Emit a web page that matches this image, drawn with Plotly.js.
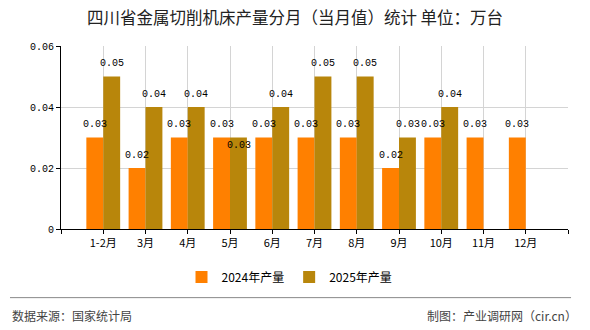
<!DOCTYPE html>
<html>
<head>
<meta charset="utf-8">
<script src="https://cdn.plot.ly/plotly-3.0.1.min.js"></script>
<style>html,body{margin:0;padding:0;background:#fff;}#chart{width:590px;height:330px;}</style>
</head>
<body>
<div id="chart"></div>
<script>
const categories = ['1-2月','3月','4月','5月','6月','7月','8月','9月','10月','11月','12月'];
const values2024 = [0.03,0.02,0.03,0.03,0.03,0.03,0.03,0.02,0.03,0.03,0.03];
const values2025 = [0.05,0.04,0.04,0.03,0.04,0.05,0.05,0.03,0.04,null,null];
const seriesNames = ['2024年产量','2025年产量'];
const yTicks = [0,0.02,0.04,0.06];
const yTickLabels = ['0','0.02','0.04','0.06'];

const xIdx = categories.map((c,i)=>i);
const cjk = '"Noto Sans CJK SC", "Noto Sans", sans-serif';
const mono = '"Liberation Mono", "DejaVu Sans Mono", monospace';
const colors = ['#FF8000','#B8860B'];

function fmt(v){ return v==null ? '' : v.toFixed(2); }

const traces = [values2024, values2025].map((vals,k)=>({
  type:'bar', name:seriesNames[k], x:xIdx, y:vals, marker:{color:colors[k]}, hoverinfo:'skip'
}));

// value labels drawn above all bars, anchored on each bar's data point
const labelAnns = [];
[values2024, values2025].forEach((vals,k)=>{
  vals.forEach((v,i)=>{
    if (v==null) return;
    // when both bars of a month are equal, the second label is pushed down (as in the source)
    const clash = (k===1 && values2024[i]===v);
    labelAnns.push({x:i, y:v, xref:'x', yref:'y', text:fmt(v), showarrow:false,
      xshift:(k===0?-8.5:8.5), yshift:(clash?-8:13), xanchor:'center', yanchor:'middle',
      font:{family:mono,size:10,color:'#000'}});
  });
});

const tickvals = [-1].concat(xIdx).concat([categories.length]);
const ticktext = [''].concat(categories).concat(['']);

const layout = {
  width:590, height:330,
  margin:{l:61,r:22,t:46,b:101},
  paper_bgcolor:'#fff', plot_bgcolor:'#fff',
  barmode:'group', bargap:0.2, bargroupgap:0,
  title:{text:'四川省金属切削机床产量分月（当月值）统计 单位：万台', x:0.5, xanchor:'center', y:0.946, yanchor:'middle',
         font:{family:cjk,size:16.5,color:'#222'}},
  xaxis:{range:[-1,categories.length], tickmode:'array', tickvals:tickvals, ticktext:ticktext,
         showgrid:true, gridcolor:'#d4d4d4', gridwidth:1, zeroline:false,
         showline:true, linecolor:'#000', linewidth:1, ticks:'outside', ticklen:4, tickcolor:'#000',
         tickfont:{family:cjk,size:11,color:'#000'}, fixedrange:true},
  yaxis:{range:[0,0.06], tickmode:'array', tickvals:yTicks, ticktext:yTickLabels,
         showgrid:true, gridcolor:'#d4d4d4', gridwidth:1, zeroline:false,
         showline:true, linecolor:'#000', linewidth:1, ticks:'outside', ticklen:4, tickcolor:'#000',
         tickfont:{family:mono,size:10,color:'#000'}, fixedrange:true},
  showlegend:true,
  legend:{orientation:'h', x:0.4507, xanchor:'center', y:-0.262, yanchor:'middle',
          font:{family:cjk,size:12,color:'#000'}, traceorder:'normal'},
  shapes:[
    {type:'line', xref:'paper', yref:'paper', x0:-0.1006, x1:1.006, y0:-0.375, y1:-0.375,
     line:{color:'#888',width:1}}
  ],
  annotations:labelAnns.concat([
    {xref:'paper', yref:'paper', x:-0.1006, y:-0.471, xanchor:'left', yanchor:'middle', showarrow:false,
     text:'数据来源：国家统计局', font:{family:cjk,size:12,color:'#444'}},
    {xref:'paper', yref:'paper', x:1.022, y:-0.471, xanchor:'right', yanchor:'middle', showarrow:false,
     text:'制图：产业调研网（cir.cn）', font:{family:cjk,size:12,color:'#444'}}
  ])
};

Plotly.newPlot('chart', traces, layout, {displayModeBar:false, staticPlot:true});
</script>
</body>
</html>
